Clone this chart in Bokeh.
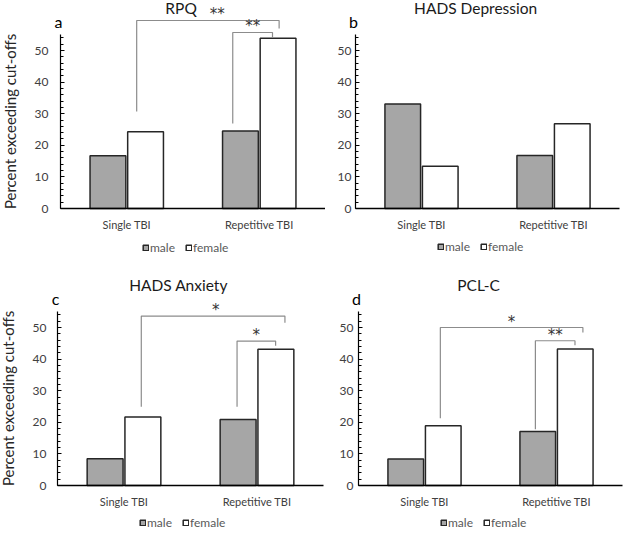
from bokeh.plotting import figure
from bokeh.models import Range1d, FixedTicker, ColumnDataSource, Legend, LegendItem, Label
from bokeh.transform import dodge
from bokeh.layouts import column, row
from bokeh.embed import file_html
from bokeh.resources import INLINE
from bokeh.core.properties import value

categories = ["Single TBI", "Repetitive TBI"]
groups = ["male", "female"]

rpq_male = [16.7, 24.5]
rpq_female = [24.3, 53.9]
dep_male = [33.1, 16.8]
dep_female = [13.4, 26.8]
anx_male = [8.5, 20.9]
anx_female = [21.7, 43.1]
pcl_male = [8.4, 17.1]
pcl_female = [18.9, 43.2]

titles = ["RPQ", "HADS Depression", "HADS Anxiety", "PCL-C"]
letters = ["a", "b", "c", "d"]
y_ticks = [0, 10, 20, 30, 40, 50]
y_minor = list(range(0, 56, 2))
y_label = "Percent exceeding cut-offs"

# significance brackets:
# (left category, left offset, left end, bracket top, right category, right offset, right end,
#  stars, star shift)
rpq_sig = [
    (0, 0.075, 30.7, 59.5, 1, 0.15, 57.0, "**", 0.07),
    (1, -0.20, 26.9, 55.7, 1, 0.10, 54.0, "**", 0.0),
]
dep_sig = []
anx_sig = [
    (0, 0.13, 24.9, 53.6, 1, 0.21, 51.5, "*", 0.02),
    (1, -0.15, 24.9, 45.7, 1, 0.14, 44.2, "*", 0.0),
]
pcl_sig = [
    (0, 0.12, 21.3, 50.0, 1, 0.20, 48.4, "*", 0.0),
    (1, -0.16, 17.8, 45.8, 1, 0.14, 44.4, "**", 0.0),
]

FONT = "Lato"
MALE_FILL = "#a6a6a6"
EDGE = "#262626"
PX_PER_UNIT_Y = 3.16


def panel(title, letter, male, female, sig, width, height, axis_px, cat_px,
          zero_px, show_ylabel, tick_standoff, legend_bottom):
    # the frame covers the whole figure; axes are pinned at x=0 / y=0
    x_start = -axis_px / cat_px
    x_end = (width - axis_px) / cat_px
    y_start = -(height - zero_px) / PX_PER_UNIT_Y
    y_end = zero_px / PX_PER_UNIT_Y
    p = figure(width=width, height=height, title=None,
               x_range=Range1d(x_start, x_end), y_range=Range1d(y_start, y_end),
               output_backend="svg", toolbar_location=None,
               min_border_left=0, min_border_right=0,
               min_border_top=0, min_border_bottom=0)
    p.outline_line_color = None
    p.xgrid.visible = False
    p.ygrid.visible = False

    src = ColumnDataSource(dict(x=[i + 0.5 for i in range(len(categories))],
                                male=male, female=female))
    r_m = p.vbar(x=dodge("x", -0.142, range=p.x_range), top="male", width=0.27,
                 source=src, fill_color=MALE_FILL, line_color=EDGE, line_width=1.5)
    r_f = p.vbar(x=dodge("x", 0.142, range=p.x_range), top="female", width=0.27,
                 source=src, fill_color="white", line_color=EDGE, line_width=1.5)

    # x axis
    xa = p.xaxis[0]
    xa.fixed_location = 0
    xa.bounds = (0, len(categories))
    xa.ticker = FixedTicker(ticks=[i + 0.5 for i in range(len(categories))])
    xa.major_label_overrides = {i + 0.5: c for i, c in enumerate(categories)}
    xa.major_tick_line_color = None
    xa.minor_tick_line_color = None
    xa.major_tick_out = 0
    xa.major_tick_in = 0
    xa.axis_line_color = "black"
    xa.axis_line_width = 1.3
    xa.major_label_standoff = 9
    xa.major_label_text_font = FONT
    xa.major_label_text_font_size = "11px"
    xa.major_label_text_color = "#404040"

    # y axis
    ya = p.yaxis[0]
    ya.fixed_location = 0
    ya.ticker = FixedTicker(ticks=y_ticks, minor_ticks=y_minor)
    ya.bounds = (0, 55)
    ya.axis_line_color = "black"
    ya.axis_line_width = 1.2
    ya.major_tick_in = 4
    ya.major_tick_out = 0
    ya.minor_tick_in = 3
    ya.minor_tick_out = 0
    ya.major_tick_line_color = "black"
    ya.minor_tick_line_color = "black"
    ya.major_label_standoff = tick_standoff
    ya.major_label_text_font = FONT
    ya.major_label_text_font_size = "12px"
    ya.major_label_text_color = "#404040"
    if show_ylabel:
        ya.axis_label = y_label
        ya.axis_label_text_font = FONT
        ya.axis_label_text_font_size = "15px"
        ya.axis_label_text_font_style = "normal"
        ya.axis_label_text_color = "#262626"
        ya.axis_label_standoff = 13

    # significance brackets
    xs, ys, sx, sy, st = [], [], [], [], []
    for (c0, o0, y0, top, c1, o1, y1, stars, shift) in sig:
        x0 = c0 + 0.5 + o0
        x1 = c1 + 0.5 + o1
        xs.append([x0, x0, x1, x1])
        ys.append([y0, top, top, y1])
        sx.append((x0 + x1) / 2 + shift)
        sy.append(top)
        st.append(stars)
    if xs:
        p.multi_line(xs=xs, ys=ys, line_color="#8c8c8c", line_width=1.2)
        p.text(x=sx, y=sy, text=st, text_align="center", text_baseline="alphabetic",
               y_offset=-6, text_font=value("DejaVu Sans"), text_font_size="15px",
               text_color="#333333")

    # title and panel letter
    p.add_layout(Label(x=0.91, y=63.3, text=title,
                       text_align="center", text_baseline="middle",
                       text_font=FONT, text_font_size="15.5px", text_color="#1a1a1a"))
    p.add_layout(Label(x=0, y=59.1, x_offset=-2, text=letter, text_align="center",
                       text_baseline="alphabetic", text_font=FONT,
                       text_font_size="16px", text_color="black"))

    legend = Legend(items=[LegendItem(label=groups[0], renderers=[r_m]),
                           LegendItem(label=groups[1], renderers=[r_f])],
                    orientation="horizontal",
                    location=(axis_px + 82, legend_bottom),
                    border_line_color=None, background_fill_alpha=0,
                    label_text_font=FONT, label_text_font_size="12px",
                    label_text_color="#595959", glyph_width=7, glyph_height=7,
                    label_standoff=1, spacing=10, padding=0, margin=0,
                    label_height=12)
    p.add_layout(legend, "center")
    return p


pa = panel(titles[0], letters[0], rpq_male, rpq_female, rpq_sig,
           325, 266, 60, 132.5, 208, True, 12, 11)
pb = panel(titles[1], letters[1], dep_male, dep_female, dep_sig,
           300, 266, 30, 132.0, 208, False, 4, 12)
pc = panel(titles[2], letters[2], anx_male, anx_female, anx_sig,
           325, 267, 57, 133.0, 219, True, 11, 3)
pd = panel(titles[3], letters[3], pcl_male, pcl_female, pcl_sig,
           300, 267, 33, 132.0, 219, False, 5, 3)

layout = column(row(pa, pb), row(pc, pd))

with open("out.html", "w") as f:
    f.write(file_html(layout, INLINE))
